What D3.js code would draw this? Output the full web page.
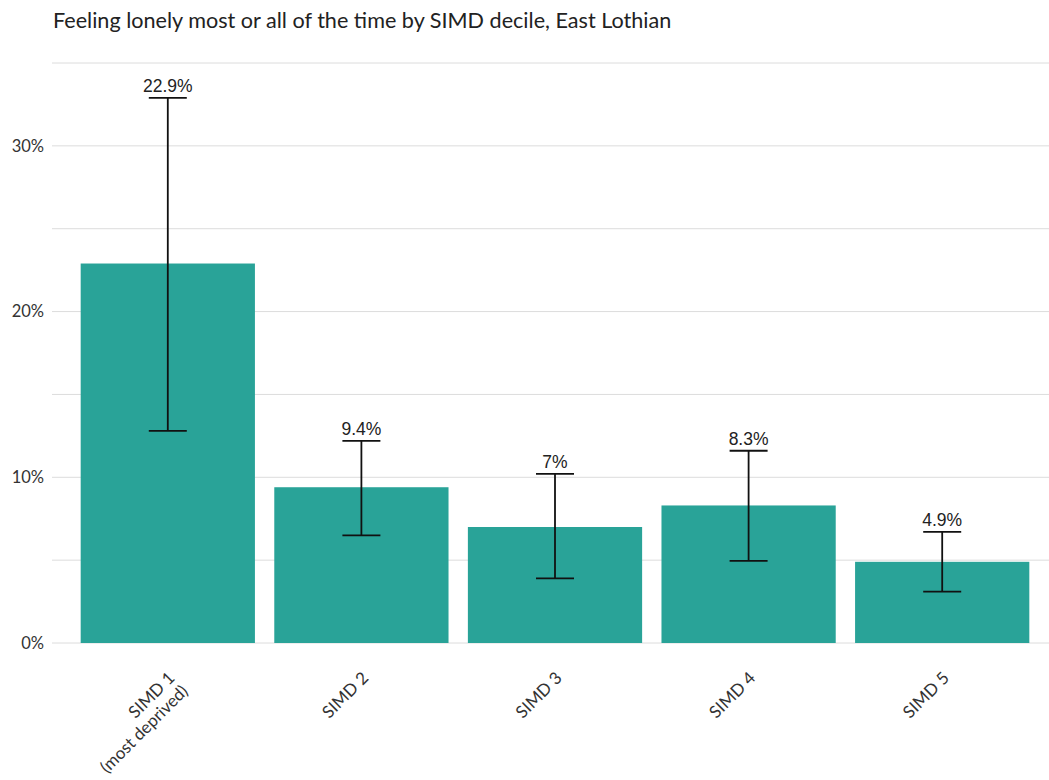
<!DOCTYPE html>
<html><head><meta charset="utf-8">
<script src="https://cdn.jsdelivr.net/npm/d3@7"></script>
<style>body{margin:0;background:#fff;} svg{display:block;}</style>
</head><body>
<svg id="c" width="1049" height="780"></svg>
<script>
const categories = ["SIMD 1\n(most deprived)", "SIMD 2", "SIMD 3", "SIMD 4", "SIMD 5"];
const values = [22.9, 9.4, 7.0, 8.3, 4.9];
const lowerCI = [12.8, 6.5, 3.9, 4.95, 3.1];
const upperCI = [32.9, 12.2, 10.2, 11.6, 6.7];
const valueLabels = ["22.9%", "9.4%", "7%", "8.3%", "4.9%"];
const yTicks = [0, 10, 20, 30];
const gridTicks = [0, 5, 10, 15, 20, 25, 30, 35];

const svg = d3.select("#c");
const x = d3.scaleBand().domain(categories).range([71, 1039]).paddingInner(0.1).paddingOuter(0.05);
const y = d3.scaleLinear().domain([0, 35]).range([643, 63]);

svg.append("text").attr("x", 53).attr("y", 28).text("Feeling lonely most or all of the time by SIMD decile, East Lothian")
  .attr("font-family", "Lato").attr("font-size", 21.6).attr("fill", "#222");

svg.append("g").selectAll("line").data(gridTicks).join("line")
  .attr("x1", 52).attr("x2", 1049).attr("y1", d => y(d)).attr("y2", d => y(d))
  .attr("stroke", "#dcdcdc").attr("stroke-width", 1);

const yAxis = d3.axisLeft(y).tickValues(yTicks).tickFormat(d => d + "%").tickSize(0).tickPadding(0);
const ya = svg.append("g").attr("transform", "translate(44,0)").call(yAxis);
ya.select(".domain").remove();
ya.selectAll("text").attr("font-family", "Lato").attr("font-size", 16.5).attr("fill", "#333");

svg.append("g").selectAll("rect").data(values).join("rect")
  .attr("x", (d, i) => x(categories[i])).attr("width", x.bandwidth())
  .attr("y", d => y(d)).attr("height", d => y(0) - y(d)).attr("fill", "#29a398");

const cx = i => x(categories[i]) + x.bandwidth() / 2;
const eb = svg.append("g").attr("stroke", "#111").attr("stroke-width", 1.8);
values.forEach((v, i) => {
  eb.append("line").attr("x1", cx(i)).attr("x2", cx(i)).attr("y1", y(lowerCI[i])).attr("y2", y(upperCI[i]));
  eb.append("line").attr("x1", cx(i) - 19).attr("x2", cx(i) + 19).attr("y1", y(lowerCI[i])).attr("y2", y(lowerCI[i]));
  eb.append("line").attr("x1", cx(i) - 19).attr("x2", cx(i) + 19).attr("y1", y(upperCI[i])).attr("y2", y(upperCI[i]));
});

svg.append("g").selectAll("text").data(valueLabels).join("text")
  .attr("x", (d, i) => cx(i)).attr("y", (d, i) => y(upperCI[i]) - 6)
  .attr("text-anchor", "middle").attr("font-family", "Liberation Sans, Arial").attr("font-size", 17.5).attr("fill", "#222")
  .text(d => d);

const xl = svg.append("g");
categories.forEach((c, i) => {
  const lines = c.split("\n");
  const t = xl.append("text")
    .attr("transform", `translate(${cx(i) + 8},${679}) rotate(-45)`)
    .attr("text-anchor", "end").attr("font-family", "Lato").attr("font-size", 17).attr("fill", "#333");
  lines.forEach((l, j) => {
    t.append("tspan").attr("x", 0).attr("dy", j === 0 ? 0 : "1.1em").text(l);
  });
});
</script>
</body></html>
